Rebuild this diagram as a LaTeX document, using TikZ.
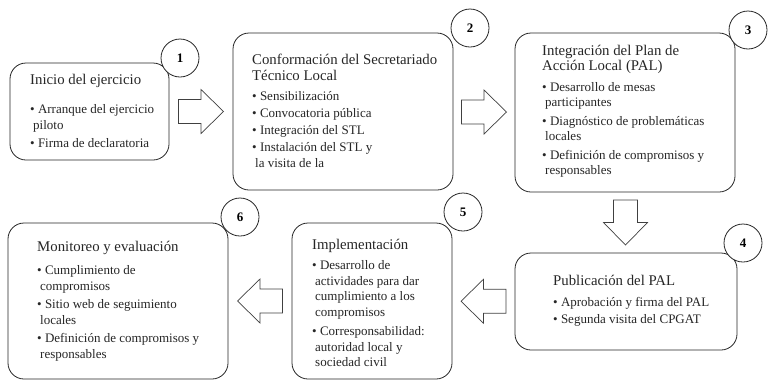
\documentclass[tikz,border=0pt]{standalone}
\usepackage{fontspec}
\setmainfont{Liberation Serif}
\newfontfamily\stagefont{Liberation Serif}
\usetikzlibrary{calc}
\newcommand\ttl[1]{{\fontsize{14.8}{15.5}\selectfont #1}}
\newcommand\bul{\textbullet\ }
\newcommand\cont{\hspace*{3pt}}
\tikzset{
  stagebox/.style={draw=black!85, rounded corners=16pt, line width=0.8pt, fill=white},
  stagetext/.style={anchor=west, align=left, inner sep=0pt, text=black!85,
    font=\stagefont\fontsize{13}{15.5}\selectfont},
  numcircle/.style={draw=black!85, circle, fill=white, minimum size=38pt, inner sep=0pt,
    line width=0.8pt, font=\stagefont\bfseries\fontsize{13}{13}\selectfont},
  pics/blockarrow/.style={code={
    \draw[line width=0.7pt, draw=black!75, fill=white]
      (-22.5,-12) -- (0,-12) -- (0,-22) -- (22.5,0) -- (0,22) -- (0,12) -- (-22.5,12) -- cycle;}}
}
\begin{document}
\begin{tikzpicture}[x=1pt,y=-1pt]
\useasboundingbox (0,0) rectangle (768,381);
% boxes
\node[stagebox, minimum width=159pt, minimum height=97pt] (b1) at (89.5,111.5) {};
\node[stagebox, minimum width=220pt, minimum height=157pt] (b2) at (343,111.5) {};
\node[stagebox, minimum width=220pt, minimum height=159pt] (b3) at (625,112.5) {};
\node[stagebox, minimum width=222pt, minimum height=97pt] (b4) at (626,301.5) {};
\node[stagebox, minimum width=160pt, minimum height=156pt] (b5) at (372,301) {};
\node[stagebox, minimum width=220pt, minimum height=156pt] (b6) at (118,301) {};
% texts
\node[stagetext] (t1) at (30,111) {\ttl{Inicio del ejercicio}\\[14pt]
  \bul Arranque del ejercicio\\ \cont piloto\\[3pt]
  \bul Firma de declaratoria};
\node[stagetext] (t2) at (252,111) {\ttl{Conformación del Secretariado}\\ \ttl{Técnico Local}\\[5pt]
  \bul Sensibilización\\[1.5pt]
  \bul Convocatoria pública\\[1.5pt]
  \bul Integración del STL\\[1.5pt]
  \bul Instalación del STL y\\ \cont la visita de la};
\node[stagetext] (t3) at (542,111) {\ttl{Integración del Plan de}\\ \ttl{Acción Local (PAL)}\\[5pt]
  \bul Desarrollo de mesas\\ \cont participantes\\[3pt]
  \bul Diagnóstico de problemáticas\\ \cont locales\\[3pt]
  \bul Definición de compromisos y\\ \cont responsables};
\node[stagetext] (t4) at (553,301) {\ttl{Publicación del PAL}\\[5pt]
  \bul Aprobación y firma del PAL\\[1.5pt]
  \bul Segunda visita del CPGAT};
\node[stagetext] (t5) at (312,303) {\ttl{Implementación}\\[5pt]
  \bul Desarrollo de\\ \cont actividades para dar\\ \cont cumplimiento a los\\ \cont compromisos\\[4pt]
  \bul Corresponsabilidad:\\ \cont autoridad local y\\ \cont sociedad civil};
\node[stagetext] (t6) at (37,301) {\ttl{Monitoreo y evaluación}\\[8pt]
  \bul Cumplimiento de\\ \cont compromisos\\[3pt]
  \bul Sitio web de seguimiento\\ \cont locales\\[3pt]
  \bul Definición de compromisos y\\ \cont responsables};
% number circles
\node[numcircle] (n1) at (180,58) {1};
\node[numcircle] (n2) at (470,28) {2};
\node[numcircle] (n3) at (748,30) {3};
\node[numcircle] (n4) at (743,243) {4};
\node[numcircle] (n5) at (463,212) {5};
\node[numcircle] (n6) at (240,217) {6};
% block arrows
\pic at ($(b1.east)!0.5!(b2.west)$) {blockarrow};
\pic at ($(b2.east)!0.5!(b3.west)$) {blockarrow};
\pic[rotate=-90] at ($(b3.south)!0.5!(b4.north)$) {blockarrow};
\pic[rotate=180] at ($(b4.west)!0.5!(b5.east)$) {blockarrow};
\pic[rotate=180] at ($(b5.west)!0.5!(b6.east)$) {blockarrow};
\end{tikzpicture}
\end{document}
